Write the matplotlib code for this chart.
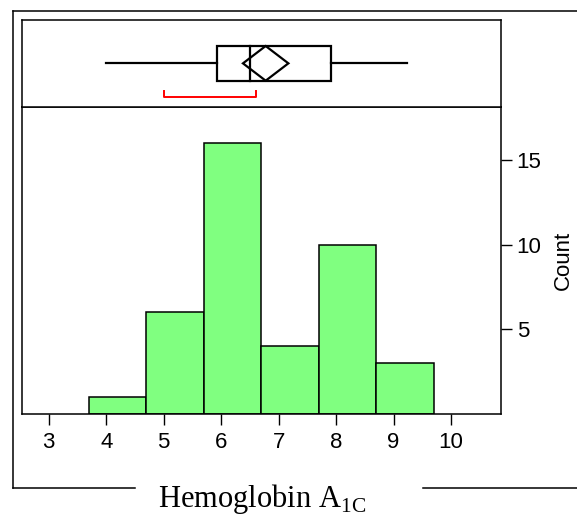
"""
Histogram of Hemoglobin A1C with outlier box plot on top (JMP style)
"""
import matplotlib
matplotlib.use("Agg")
import matplotlib.pyplot as plt
from matplotlib import font_manager
from matplotlib.lines import Line2D
from matplotlib.patches import Rectangle, Polygon

# make sure the regular (not Narrow) Liberation Sans is used
sans = 'Liberation Sans'
for path in font_manager.findSystemFonts():
    if path.endswith('LiberationSans-Regular.ttf'):
        font_manager.fontManager.addfont(path)
        sans = font_manager.FontProperties(fname=path).get_name()
        break
plt.rcParams['font.family'] = [sans, 'DejaVu Sans']
plt.rcParams['mathtext.fontset'] = 'custom'
plt.rcParams['mathtext.rm'] = 'Liberation Serif'

# histogram data
bin_edges = [3.7, 4.7, 5.7, 6.7, 7.7, 8.7, 9.7]
counts = [1, 6, 16, 4, 10, 3]
x_ticks = [3, 4, 5, 6, 7, 8, 9, 10]
y_ticks = [5, 10, 15]

# box plot summary
whisker_lo = 4.0
q1 = 5.92
median = 6.51
q3 = 7.92
whisker_hi = 9.23
mean = 6.775
ci_lo, ci_hi = 6.38, 7.17       # mean diamond
short_lo, short_hi = 5.0, 6.6   # shortest half bracket

bar_color = '#80FF80'
xmin, xmax = 2.535, 10.875

fig = plt.figure(figsize=(5.77, 5.16), dpi=100)

# outer frame (figure coords)
W, H = 577, 516
def fx(px): return px / W
def fy(py): return 1 - py / H
frame_kw = dict(color='black', lw=1.1, transform=fig.transFigure)
fig.add_artist(Line2D([fx(12.7), fx(12.7)], [fy(11), fy(488.3)], **frame_kw))
fig.add_artist(Line2D([fx(12.7), 1], [fy(11), fy(11)], **frame_kw))
fig.add_artist(Line2D([fx(12.7), fx(135)], [fy(488.3), fy(488.3)], **frame_kw))
fig.add_artist(Line2D([fx(423.3), 1], [fy(488.3), fy(488.3)], **frame_kw))

left = fx(22)
width = fx(501.3) - left
hb = fy(413.7)
ht = fy(106.7)
ax = fig.add_axes([left, hb, width, ht - hb])
axb = fig.add_axes([left, ht, width, fy(20) - ht])

# histogram
ax.bar(bin_edges[:-1], counts, width=[b - a for a, b in zip(bin_edges[:-1], bin_edges[1:])],
       align='edge', color=bar_color, edgecolor='black', linewidth=1.1)
ax.set_xlim(xmin, xmax)
ax.set_ylim(0, 18.15)
ax.set_xticks(x_ticks)
ax.set_xticklabels([str(t) for t in x_ticks])
ax.yaxis.tick_right()
ax.yaxis.set_label_position('right')
ax.set_yticks(y_ticks)
ax.set_yticklabels([str(t) for t in y_ticks])
ax.tick_params(axis='x', direction='out', length=8, width=1, pad=5, labelsize=16)
ax.tick_params(axis='y', direction='out', length=8, width=1, pad=3, labelsize=16)
ax.set_ylabel('Count', fontsize=16, labelpad=8)
for s in ax.spines.values():
    s.set_linewidth(1.1)

# box plot panel
axb.set_xlim(xmin, xmax)
axb.set_ylim(0, 1)
axb.set_xticks([])
axb.set_yticks([])
for s in axb.spines.values():
    s.set_linewidth(1.1)
lw = 1.6
axb.plot([whisker_lo, q1], [0.5, 0.5], color='black', lw=lw)
axb.plot([q3, whisker_hi], [0.5, 0.5], color='black', lw=lw)
axb.add_patch(Rectangle((q1, 0.30), q3 - q1, 0.40, fill=False, edgecolor='black', lw=lw))
axb.plot([median, median], [0.30, 0.70], color='black', lw=lw)
axb.add_patch(Polygon([(ci_lo, 0.5), (mean, 0.70), (ci_hi, 0.5), (mean, 0.30)],
                      closed=True, fill=False, edgecolor='black', lw=lw))
axb.plot([short_lo, short_lo, short_hi, short_hi], [0.18, 0.11, 0.11, 0.18], color='red', lw=1.4)

# x label with subscript
fig.text((fx(155) + fx(369)) / 2, fy(507.3), r'Hemoglobin A$_{\mathrm{1C}}$',
         family='Liberation Serif', fontsize=22, ha='center', va='baseline')

fig.savefig('out.png', dpi=100)
